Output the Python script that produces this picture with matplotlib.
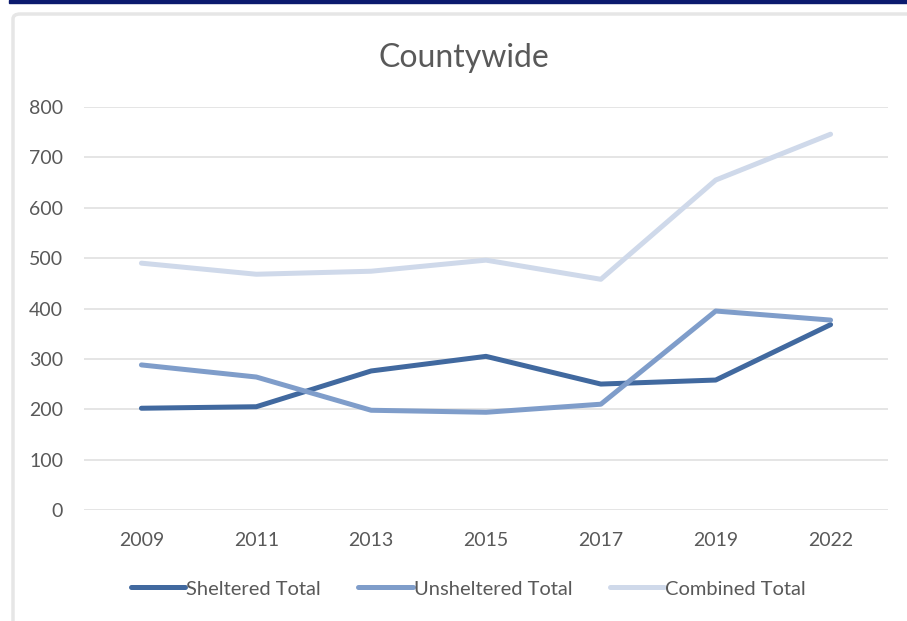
import matplotlib.pyplot as plt
from matplotlib.patches import FancyBboxPatch, Rectangle

years = ["2009", "2011", "2013", "2015", "2017", "2019", "2022"]
sheltered = [202, 205, 276, 305, 250, 258, 368]
unsheltered = [288, 264, 198, 194, 210, 395, 377]
combined = [490, 468, 474, 496, 458, 655, 746]

plt.rcParams['font.family'] = ['Lato', 'DejaVu Sans']
txt = "#595959"

fig = plt.figure(figsize=(9.07, 6.21), dpi=100)

# dark band at top and the chart frame
fig.patches.append(Rectangle((9 / 907, 1 - 3 / 621), 1, 3 / 621, transform=fig.transFigure,
                             color="#0b1a6e", zorder=0))
fig.patches.append(FancyBboxPatch((13 / 907, -0.05), 1.0, 1 - 14 / 621 + 0.05,
                                  boxstyle="round,pad=0,rounding_size=0.008",
                                  transform=fig.transFigure, facecolor="white",
                                  edgecolor="#e6e6e6", linewidth=2.5, zorder=0))

ax = fig.add_axes([84 / 907, 1 - 510 / 621, (888 - 84) / 907, (510 - 107) / 621])
ax.set_zorder(2)
ax.set_facecolor("none")
x = range(len(years))
ax.plot(x, sheltered, color="#41699f", lw=3.6, label="Sheltered Total", solid_capstyle="round")
ax.plot(x, unsheltered, color="#7f9dca", lw=3.6, label="Unsheltered Total", solid_capstyle="round")
ax.plot(x, combined, color="#cfd9ea", lw=3.6, label="Combined Total", solid_capstyle="round")

ax.set_xlim(-0.5, len(years) - 0.5)
ax.set_ylim(0, 800)
ax.set_yticks(range(0, 801, 100))
ax.set_xticks(list(x))
ax.set_xticklabels(years)
ax.grid(axis="y", color="#e0e0e0", lw=1.2)
ax.set_axisbelow(True)
for s in ax.spines.values():
    s.set_visible(False)
ax.tick_params(length=0, labelsize=14, labelcolor=txt)
ax.tick_params(axis="y", pad=15)
ax.tick_params(axis="x", pad=16)

fig.text(464 / 907, 1 - 58 / 621, "Countywide", ha="center", va="center", fontsize=23,
         color=txt, zorder=3)

leg = ax.legend(loc="center", bbox_to_anchor=(0.478, -0.196), ncol=3, frameon=False,
                fontsize=14.5, handlelength=2.7, handletextpad=0.05, columnspacing=1.85)
for t in leg.get_texts():
    t.set_color(txt)

fig.savefig("out.png", dpi=100)
